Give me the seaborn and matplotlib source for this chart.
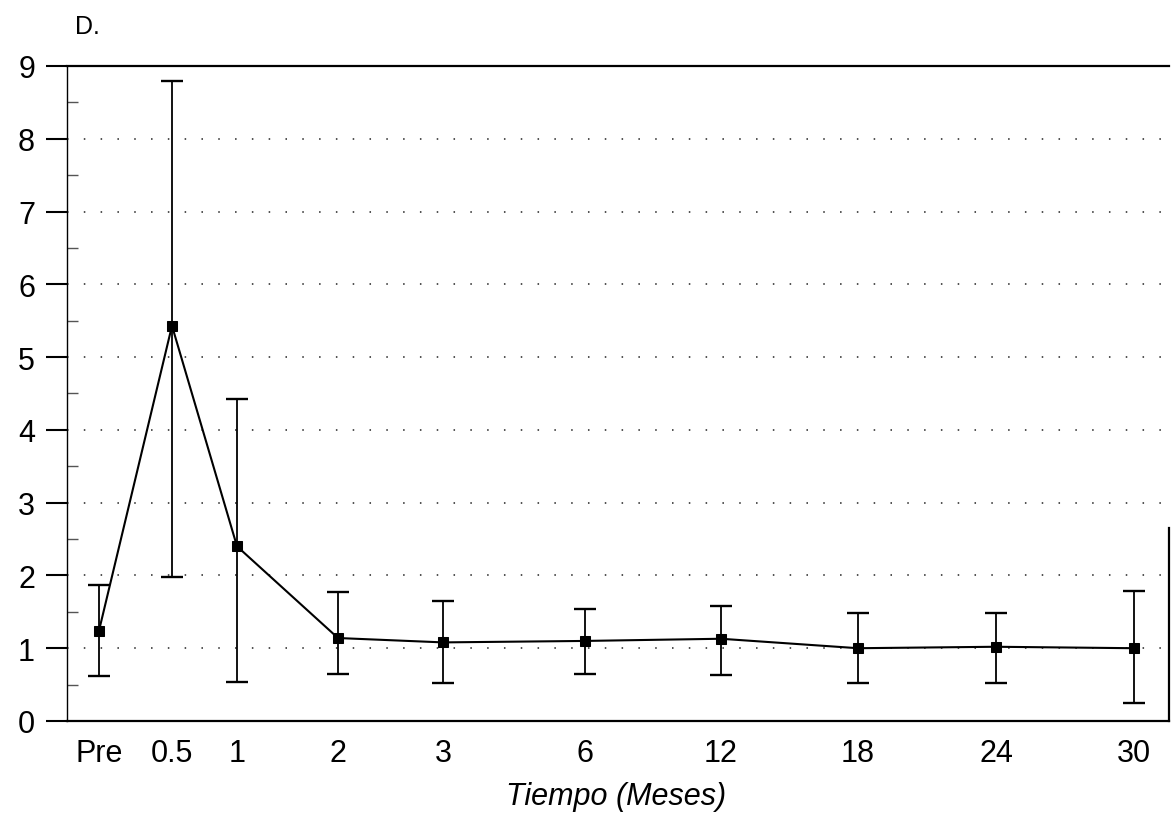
import matplotlib
matplotlib.use("Agg")
import matplotlib.pyplot as plt
from matplotlib.ticker import MultipleLocator
import seaborn as sns
import pandas as pd

# Data (panel D)
time_labels = ["Pre", "0.5", "1", "2", "3", "6", "12", "18", "24", "30"]
mean_vals = [1.24, 5.43, 2.40, 1.14, 1.08, 1.10, 1.13, 1.00, 1.02, 1.00]
upper_vals = [1.87, 8.79, 4.43, 1.77, 1.65, 1.54, 1.58, 1.48, 1.48, 1.78]
lower_vals = [0.62, 1.98, 0.53, 0.65, 0.52, 0.65, 0.63, 0.52, 0.52, 0.25]
y_ticks = [0, 1, 2, 3, 4, 5, 6, 7, 8, 9]

# uneven spacing of the time points along the axis, as in the original
slot_pos = [0.32, 1.05, 1.70, 2.71, 3.76, 5.18, 6.54, 7.91, 9.29, 10.67]

df = pd.DataFrame({
    "pos": slot_pos,
    "label": time_labels,
    "mean": mean_vals,
    "upper": upper_vals,
    "lower": lower_vals,
})

sns.set_theme(style="ticks")
plt.rcParams["font.family"] = ["Liberation Sans", "DejaVu Sans"]
plt.rcParams["text.color"] = "black"

fig = plt.figure(figsize=(11.71, 8.37), dpi=100)
ax = fig.add_axes([0.0572, 0.1374, 0.9411, 0.7826])

# dotted horizontal grid lines at 1..8
for yv in y_ticks[1:-1]:
    ax.axhline(yv, color="#222222", lw=1.1, ls=(0, (1, 10)), zorder=0)

ax.errorbar(df["pos"], df["mean"],
            yerr=[df["mean"] - df["lower"], df["upper"] - df["mean"]],
            fmt="none", ecolor="black", elinewidth=1.3, capsize=8,
            capthick=1.7, zorder=2)

sns.lineplot(data=df, x="pos", y="mean", ax=ax, color="black", lw=1.5,
             marker="s", markersize=6.5, markeredgecolor="black",
             markerfacecolor="black", zorder=3)

ax.set_xlim(0, 11.02)
ax.set_ylim(0, 9)
ax.set_xticks(df["pos"])
ax.set_xticklabels(df["label"])
ax.set_yticks(y_ticks)
ax.yaxis.set_minor_locator(MultipleLocator(0.5))

ax.tick_params(axis="x", length=0, pad=12, labelsize=22, labelcolor="black")
ax.tick_params(axis="y", which="major", direction="out", length=15,
               width=1.5, color="black", pad=8, labelsize=22,
               labelcolor="black")
ax.tick_params(axis="y", which="minor", direction="in", length=8,
               width=1, left=True, color="#555555")

for side in ["left", "top", "bottom", "right"]:
    ax.spines[side].set_visible(True)
    ax.spines[side].set_color("black")
    ax.spines[side].set_linewidth(1.6)
ax.spines["left"].set_linewidth(1.0)
ax.spines["right"].set_bounds(0, 2.65)

ax.set_xlabel("")
ax.set_ylabel("")

fig.text(0.064, 0.968, "D.", fontsize=18, ha="left", va="center")
fig.text(0.526, 0.048, "Tiempo (Meses)", fontsize=22, style="italic",
         ha="center", va="center")

fig.savefig("out.png", dpi=100)
